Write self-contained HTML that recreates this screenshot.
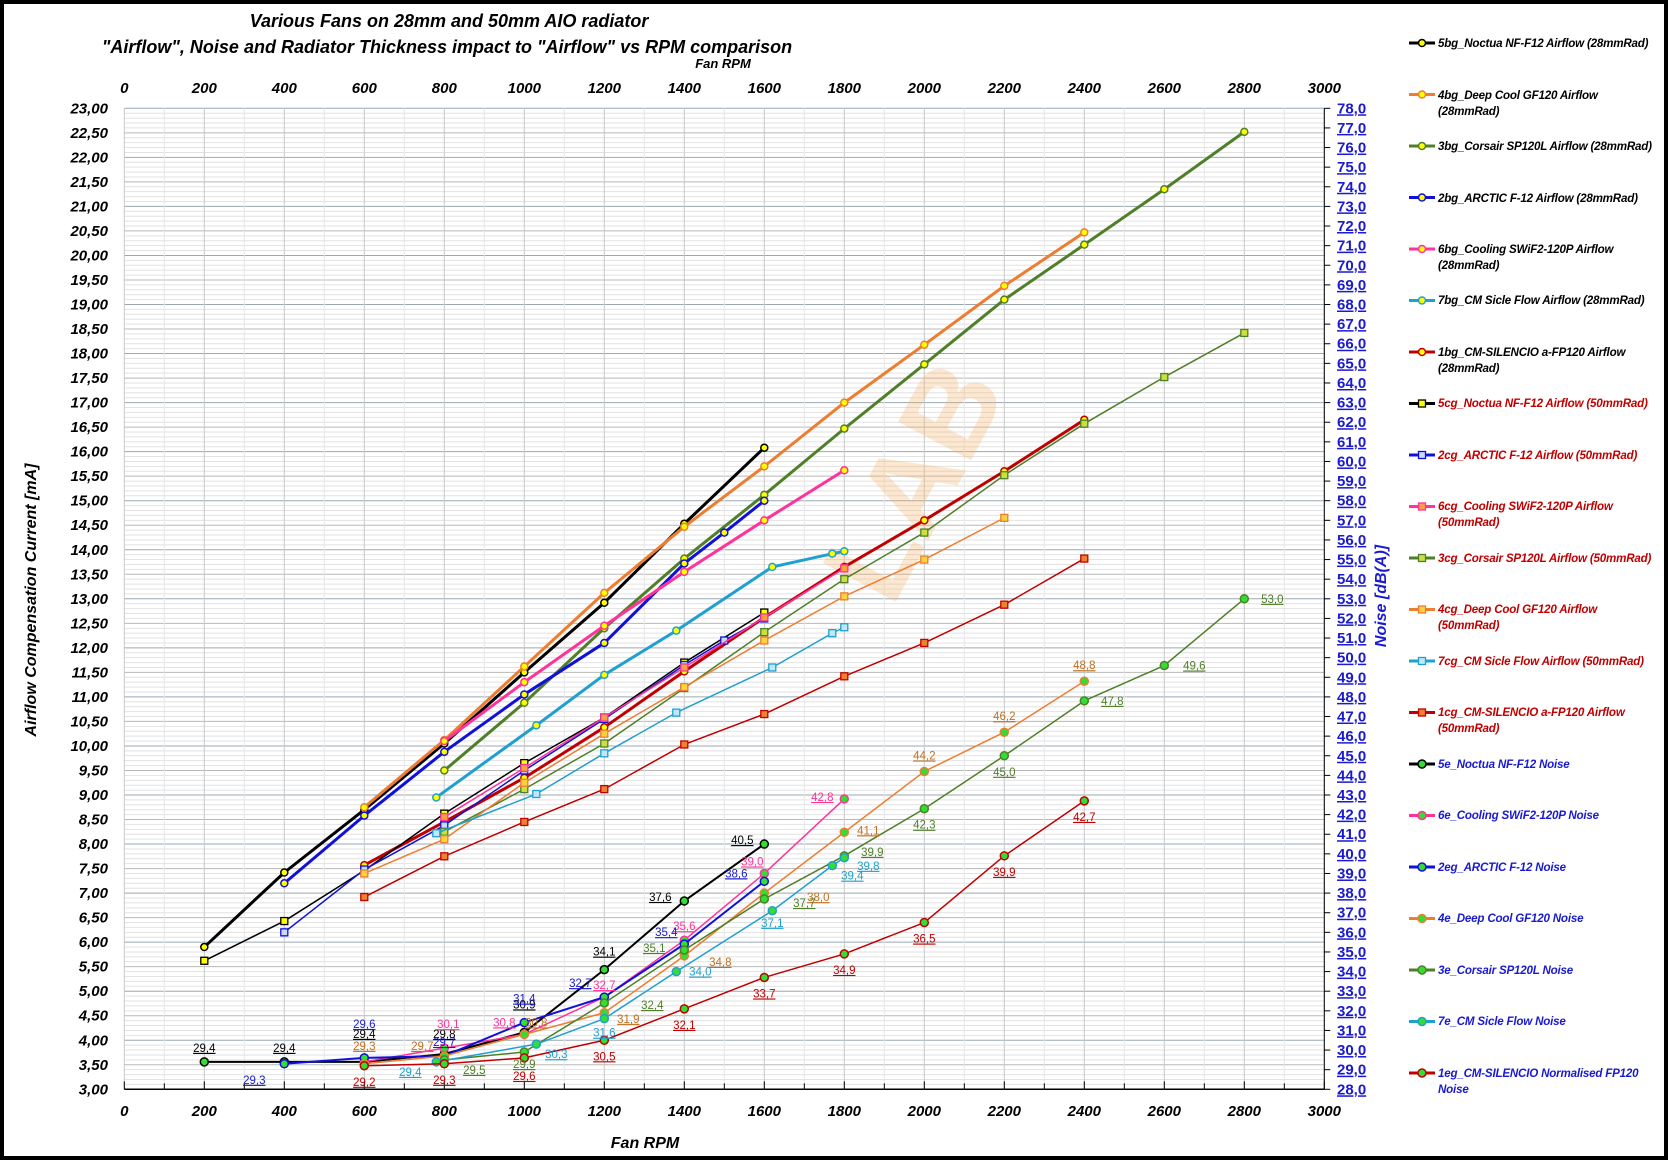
<!DOCTYPE html>
<html><head><meta charset="utf-8"><style>
html,body{margin:0;padding:0;background:#fff}
svg{display:block}
text{font-family:"Liberation Sans",sans-serif}
.t{font-weight:bold;font-style:italic}
.lg{font-size:11.6px;font-weight:bold;font-style:italic;letter-spacing:-0.2px}
.ax{font-size:15px;font-weight:bold;font-style:italic}
.ra{font-size:15px;font-weight:bold;fill:#1a1ad0;text-decoration:underline}
.dl{font-size:11.5px;text-decoration:underline}
</style></head><body>
<svg id="s" width="1668" height="1160" xmlns="http://www.w3.org/2000/svg">
<rect x="2" y="2" width="1664" height="1156" fill="#fff" stroke="#000" stroke-width="4"/>
<g id="grid"></g>
<text x="449" y="27" text-anchor="middle" class="t" font-size="18">Various Fans on 28mm and 50mm AIO radiator</text>
<text x="447" y="53" text-anchor="middle" class="t" font-size="18">"Airflow",  Noise and Radiator Thickness impact to "Airflow"  vs RPM comparison</text>
<text x="723" y="68" text-anchor="middle" class="t" font-size="13">Fan RPM</text>
<text x="645" y="1148" text-anchor="middle" class="t" font-size="16">Fan RPM</text>
<text transform="translate(36,600) rotate(-90)" text-anchor="middle" class="t" font-size="16">Airflow Compensation Current [mA]</text>
<text transform="translate(1386,596) rotate(-90)" text-anchor="middle" class="t" font-size="16" fill="#1a1ad0">Noise  [dB(A)]</text>
<text transform="translate(950,500) rotate(-62)" text-anchor="middle" font-size="120" font-weight="bold" fill="#f7b26a" opacity="0.3">LAB</text>
<g id="axes"></g>
<g id="series"></g>
<g id="labels">
<g class="dl" fill="#000">
<text data-r="200" data-n="29.4" data-dx="0" data-dy="-10">29,4</text>
<text data-r="400" data-n="29.4" data-dx="0" data-dy="-10">29,4</text>
<text data-r="600" data-n="29.4" data-dx="0" data-dy="-24">29,4</text>
<text data-r="800" data-n="29.8" data-dx="0" data-dy="-16">29,8</text>
<text data-r="1000" data-n="30.9" data-dx="0" data-dy="-24">30,9</text>
<text data-r="1200" data-n="34.1" data-dx="0" data-dy="-14">34,1</text>
<text data-r="1400" data-n="37.6" data-dx="-24" data-dy="0">37,6</text>
<text data-r="1600" data-n="40.5" data-dx="-22" data-dy="0">40,5</text>
</g>
<g class="dl" fill="#ff3399">
<text data-r="800" data-n="30.1" data-dx="4" data-dy="-20">30,1</text>
<text data-r="1000" data-n="30.8" data-dx="-20" data-dy="-8">30,8</text>
<text data-r="1200" data-n="32.7" data-dx="0" data-dy="-8">32,7</text>
<text data-r="1400" data-n="35.6" data-dx="0" data-dy="-10">35,6</text>
<text data-r="1600" data-n="39.0" data-dx="-12" data-dy="-8">39,0</text>
<text data-r="1800" data-n="42.8" data-dx="-22" data-dy="2">42,8</text>
</g>
<g class="dl" fill="#1a1ad0">
<text data-r="400" data-n="29.3" data-dx="-30" data-dy="20">29,3</text>
<text data-r="600" data-n="29.6" data-dx="0" data-dy="-30">29,6</text>
<text data-r="800" data-n="29.7" data-dx="0" data-dy="-10">29,7</text>
<text data-r="1000" data-n="31.4" data-dx="0" data-dy="-20">31,4</text>
<text data-r="1200" data-n="32.7" data-dx="-24" data-dy="-10">32,7</text>
<text data-r="1400" data-n="35.4" data-dx="-18" data-dy="-8">35,4</text>
<text data-r="1600" data-n="38.6" data-dx="-28" data-dy="-4">38,6</text>
</g>
<g class="dl" fill="#c07020">
<text data-r="600" data-n="29.3" data-dx="0" data-dy="-14">29,3</text>
<text data-r="800" data-n="29.7" data-dx="-22" data-dy="-6">29,7</text>
<text data-r="1000" data-n="30.8" data-dx="12" data-dy="-8">30,8</text>
<text data-r="1200" data-n="31.9" data-dx="24" data-dy="10">31,9</text>
<text data-r="1400" data-n="34.8" data-dx="36" data-dy="10">34,8</text>
<text data-r="1600" data-n="38.0" data-dx="54" data-dy="8">38,0</text>
<text data-r="1800" data-n="41.1" data-dx="24" data-dy="2">41,1</text>
<text data-r="2000" data-n="44.2" data-dx="0" data-dy="-12">44,2</text>
<text data-r="2200" data-n="46.2" data-dx="0" data-dy="-12">46,2</text>
<text data-r="2400" data-n="48.8" data-dx="0" data-dy="-12">48,8</text>
</g>
<g class="dl" fill="#4f7f28">
<text data-r="800" data-n="29.5" data-dx="30" data-dy="14">29,5</text>
<text data-r="1000" data-n="29.9" data-dx="0" data-dy="16">29,9</text>
<text data-r="1200" data-n="32.4" data-dx="48" data-dy="6">32,4</text>
<text data-r="1400" data-n="35.1" data-dx="-30" data-dy="2">35,1</text>
<text data-r="1600" data-n="37.7" data-dx="40" data-dy="8">37,7</text>
<text data-r="1800" data-n="39.9" data-dx="28" data-dy="0">39,9</text>
<text data-r="2000" data-n="42.3" data-dx="0" data-dy="20">42,3</text>
<text data-r="2200" data-n="45.0" data-dx="0" data-dy="20">45,0</text>
<text data-r="2400" data-n="47.8" data-dx="28" data-dy="4">47,8</text>
<text data-r="2600" data-n="49.6" data-dx="30" data-dy="4">49,6</text>
<text data-r="2800" data-n="53.0" data-dx="28" data-dy="4">53,0</text>
</g>
<g class="dl" fill="#1fa0d0">
<text data-r="780" data-n="29.4" data-dx="-26" data-dy="14">29,4</text>
<text data-r="1030" data-n="30.3" data-dx="20" data-dy="14">30,3</text>
<text data-r="1200" data-n="31.6" data-dx="0" data-dy="18">31,6</text>
<text data-r="1380" data-n="34.0" data-dx="24" data-dy="4">34,0</text>
<text data-r="1620" data-n="37.1" data-dx="0" data-dy="16">37,1</text>
<text data-r="1770" data-n="39.4" data-dx="20" data-dy="14">39,4</text>
<text data-r="1800" data-n="39.8" data-dx="24" data-dy="12">39,8</text>
</g>
<g class="dl" fill="#c00000">
<text data-r="600" data-n="29.2" data-dx="0" data-dy="20">29,2</text>
<text data-r="800" data-n="29.3" data-dx="0" data-dy="20">29,3</text>
<text data-r="1000" data-n="29.6" data-dx="0" data-dy="22">29,6</text>
<text data-r="1200" data-n="30.5" data-dx="0" data-dy="20">30,5</text>
<text data-r="1400" data-n="32.1" data-dx="0" data-dy="20">32,1</text>
<text data-r="1600" data-n="33.7" data-dx="0" data-dy="20">33,7</text>
<text data-r="1800" data-n="34.9" data-dx="0" data-dy="20">34,9</text>
<text data-r="2000" data-n="36.5" data-dx="0" data-dy="20">36,5</text>
<text data-r="2200" data-n="39.9" data-dx="0" data-dy="20">39,9</text>
<text data-r="2400" data-n="42.7" data-dx="0" data-dy="20">42,7</text>
</g>
</g>
<g id="legend">
<text class="lg" x="1438" y="47">5bg_Noctua NF-F12  Airflow (28mmRad)</text>
<text class="lg" x="1438" y="99">4bg_Deep Cool  GF120 Airflow</text><text class="lg" x="1438" y="115">(28mmRad)</text>
<text class="lg" x="1438" y="150">3bg_Corsair SP120L Airflow (28mmRad)</text>
<text class="lg" x="1438" y="202">2bg_ARCTIC F-12 Airflow (28mmRad)</text>
<text class="lg" x="1438" y="253">6bg_Cooling SWiF2-120P  Airflow</text><text class="lg" x="1438" y="269">(28mmRad)</text>
<text class="lg" x="1438" y="304">7bg_CM Sicle  Flow  Airflow  (28mmRad)</text>
<text class="lg" x="1438" y="356">1bg_CM-SILENCIO a-FP120 Airflow</text><text class="lg" x="1438" y="372">(28mmRad)</text>
<g fill="#c00000">
<text class="lg" x="1438" y="407">5cg_Noctua NF-F12  Airflow (50mmRad)</text>
<text class="lg" x="1438" y="459">2cg_ARCTIC F-12 Airflow  (50mmRad)</text>
<text class="lg" x="1438" y="510">6cg_Cooling SWiF2-120P Airflow</text><text class="lg" x="1438" y="526">(50mmRad)</text>
<text class="lg" x="1438" y="562">3cg_Corsair SP120L Airflow  (50mmRad)</text>
<text class="lg" x="1438" y="613">4cg_Deep Cool  GF120 Airflow</text><text class="lg" x="1438" y="629">(50mmRad)</text>
<text class="lg" x="1438" y="665">7cg_CM Sicle Flow  Airflow (50mmRad)</text>
<text class="lg" x="1438" y="716">1cg_CM-SILENCIO a-FP120 Airflow</text><text class="lg" x="1438" y="732">(50mmRad)</text>
</g>
<g fill="#1a1ad0">
<text class="lg" x="1438" y="768">5e_Noctua NF-F12  Noise</text>
<text class="lg" x="1438" y="819">6e_Cooling SWiF2-120P  Noise</text>
<text class="lg" x="1438" y="871">2eg_ARCTIC F-12 Noise</text>
<text class="lg" x="1438" y="922">4e_Deep Cool  GF120 Noise</text>
<text class="lg" x="1438" y="974">3e_Corsair SP120L Noise</text>
<text class="lg" x="1438" y="1025">7e_CM Sicle Flow  Noise</text>
<text class="lg" x="1438" y="1077">1eg_CM-SILENCIO Normalised  FP120</text><text class="lg" x="1438" y="1093">Noise</text>
</g>
</g>
<g id="ticks"></g>
</svg>
<script>
var NS="http://www.w3.org/2000/svg";
function X(r){return 124.3+0.4*r}
function Y(a){return 1089.3-(a-3)*49.05}
function N(n){return 3+(n-28)*0.4}
function el(p,t,a){var e=document.createElementNS(NS,t);for(var k in a)e.setAttribute(k,a[k]);p.appendChild(e);return e}
var g=document.getElementById('grid');
for(var i=0;i<=200;i++){var a=3+i*0.1,y=Y(a),maj=i%5==0;el(g,'line',{x1:X(0),x2:X(3000),y1:y,y2:y,stroke:maj?(i%10==0?'#9aa8b4':'#b8b8b8'):'#e2e2e2','stroke-width':1})}
for(var r=0;r<=3000;r+=100){el(g,'line',{x1:X(r),x2:X(r),y1:Y(23),y2:Y(3),stroke:r%200==0?'#c8c8c8':'#e6e6e6','stroke-width':1})}
var ax=document.getElementById('axes');
el(ax,'line',{x1:X(0),x2:X(3000),y1:Y(3),y2:Y(3),stroke:'#000','stroke-width':1.5});
el(ax,'line',{x1:X(3000),x2:X(3000),y1:Y(23),y2:Y(3),stroke:'#000','stroke-width':1});
for(var r=0;r<=3000;r+=100){el(ax,'line',{x1:X(r),x2:X(r),y1:Y(3),y2:Y(3)-(r%200==0?8:6),stroke:'#000'})}
for(var n=28;n<=78;n++){el(ax,'line',{x1:X(3000),x2:X(3000)+6,y1:Y(N(n)),y2:Y(N(n)),stroke:'#000'})}
var tk=document.getElementById('ticks');
for(var i=0;i<=40;i++){var a=3+i*0.5;var t=el(tk,'text',{'class':'ax','text-anchor':'end',x:108,y:Y(a)+5});t.textContent=a.toFixed(2).replace('.',',')}
for(var r=0;r<=3000;r+=200){var t=el(tk,'text',{'class':'ax','text-anchor':'middle',x:X(r),y:93});t.textContent=r;var t2=el(tk,'text',{'class':'ax','text-anchor':'middle',x:X(r),y:1116});t2.textContent=r}
for(var n=28;n<=78;n++){var t=el(tk,'text',{'class':'ra',x:1337,y:Y(N(n))+5});t.textContent=n.toFixed(1).replace('.',',')}
var Yf='#ffff00',Gf='#33dd33';
var S=[
['#000',3,'c',Yf,[[200,5.9],[400,7.42],[600,8.7],[800,10.05],[1000,11.5],[1200,12.92],[1400,14.53],[1600,16.08]]],
['#ed7d31',3,'c',Yf,[[600,8.75],[800,10.12],[1000,11.62],[1200,13.12],[1400,14.47],[1600,15.7],[1800,17.0],[2000,18.18],[2200,19.38],[2400,20.47]]],
['#4f7f28',3,'c',Yf,[[800,9.5],[1000,10.88],[1200,12.4],[1400,13.82],[1600,15.12],[1800,16.47],[2000,17.78],[2200,19.1],[2400,20.22],[2600,21.35],[2800,22.52]]],
['#1010d8',3,'c',Yf,[[400,7.2],[600,8.58],[800,9.88],[1000,11.05],[1200,12.1],[1400,13.72],[1500,14.35],[1600,15.0]]],
['#ff3399',3,'c',Yf,[[800,10.1],[1000,11.3],[1200,12.45],[1400,13.55],[1600,14.6],[1800,15.62]]],
['#1fa0d0',3,'c',Yf,[[780,8.95],[1030,10.42],[1200,11.45],[1380,12.35],[1620,13.65],[1770,13.92],[1800,13.97]]],
['#c00000',3,'c',Yf,[[600,7.57],[800,8.45],[1000,9.35],[1200,10.38],[1400,11.52],[1600,12.62],[1800,13.65],[2000,14.6],[2200,15.6],[2400,16.65]]],
['#000',1.5,'s',Yf,[[200,5.62],[400,6.43],[600,7.46],[800,8.62],[1000,9.65],[1200,10.58],[1400,11.7],[1600,12.72]]],
['#1010d8',1.5,'s','#c8d8ff',[[400,6.2],[600,7.48],[800,8.38],[1000,9.5],[1200,10.55],[1400,11.65],[1500,12.15],[1600,12.6]]],
['#ff3399',1.5,'s','#f9a040',[[800,8.55],[1000,9.55],[1200,10.58],[1400,11.6],[1600,12.62],[1800,13.62]]],
['#4f7f28',1.5,'s','#c8e040',[[800,8.25],[1000,9.12],[1200,10.05],[1400,11.18],[1600,12.32],[1800,13.4],[2000,14.35],[2200,15.52],[2400,16.57],[2600,17.52],[2800,18.42]]],
['#ed7d31',1.5,'s','#ffd040',[[600,7.4],[800,8.1],[1000,9.25],[1200,10.25],[1400,11.2],[1600,12.15],[1800,13.05],[2000,13.8],[2200,14.65]]],
['#1fa0d0',1.5,'s','#bfe8ff',[[780,8.22],[1030,9.02],[1200,9.85],[1380,10.68],[1620,11.6],[1770,12.3],[1800,12.42]]],
['#c00000',1.5,'s','#f08030',[[600,6.92],[800,7.75],[1000,8.45],[1200,9.12],[1400,10.03],[1600,10.65],[1800,11.42],[2000,12.1],[2200,12.88],[2400,13.82]]],
['#000',2,'n',Gf,[[200,29.4],[400,29.4],[600,29.4],[800,29.8],[1000,30.9],[1200,34.1],[1400,37.6],[1600,40.5]]],
['#ff3399',1.5,'n',Gf,[[600,29.4],[800,30.1],[1000,30.8],[1200,32.7],[1400,35.6],[1600,39.0],[1800,42.8]]],
['#1010d8',2,'n',Gf,[[400,29.3],[600,29.6],[800,29.7],[1000,31.4],[1200,32.7],[1400,35.4],[1600,38.6]]],
['#ed7d31',1.5,'n',Gf,[[600,29.3],[800,29.7],[1000,30.8],[1200,31.9],[1400,34.8],[1600,38.0],[1800,41.1],[2000,44.2],[2200,46.2],[2400,48.8]]],
['#4f7f28',1.5,'n',Gf,[[800,29.5],[1000,29.9],[1200,32.4],[1400,35.1],[1600,37.7],[1800,39.9],[2000,42.3],[2200,45.0],[2400,47.8],[2600,49.6],[2800,53.0]]],
['#1fa0d0',1.5,'n',Gf,[[780,29.4],[1030,30.3],[1200,31.6],[1380,34.0],[1620,37.1],[1770,39.4],[1800,39.8]]],
['#c00000',1.5,'n',Gf,[[600,29.2],[800,29.3],[1000,29.6],[1200,30.5],[1400,32.1],[1600,33.7],[1800,34.9],[2000,36.5],[2200,39.9],[2400,42.7]]]
];
var sg=document.getElementById('series');
function mk(p,typ,x,y,c,f){if(typ=='s')el(p,'rect',{x:x-3.5,y:y-3.5,width:7,height:7,fill:f,stroke:c,'stroke-width':1.3});else el(p,'circle',{cx:x,cy:y,r:typ=='n'?4:3.5,fill:f,stroke:c,'stroke-width':1.5})}
S.forEach(function(s){var pts=s[4].map(function(p){return [X(p[0]),Y(s[2]=='n'?N(p[1]):p[1])]});
el(sg,'polyline',{points:pts.map(function(p){return p.join(',')}).join(' '),fill:'none',stroke:s[0],'stroke-width':s[1],'stroke-linejoin':'round'});
pts.forEach(function(p){mk(sg,s[2],p[0],p[1],s[0],s[3])})});
document.querySelectorAll('#labels text').forEach(function(t){var r=+t.getAttribute('data-r'),n=+t.getAttribute('data-n');
t.setAttribute('x',X(r)+(+t.getAttribute('data-dx')));t.setAttribute('y',Y(N(n))+(+t.getAttribute('data-dy')));t.setAttribute('text-anchor','middle')});
var lg=document.getElementById('legend');
for(var i=0;i<21;i++){var s=S[i],y=43+i*51.5;el(lg,'line',{x1:1409,x2:1435,y1:y,y2:y,stroke:s[0],'stroke-width':3});mk(lg,s[2],1422,y,s[0],s[3])}
</script>
</body></html>
